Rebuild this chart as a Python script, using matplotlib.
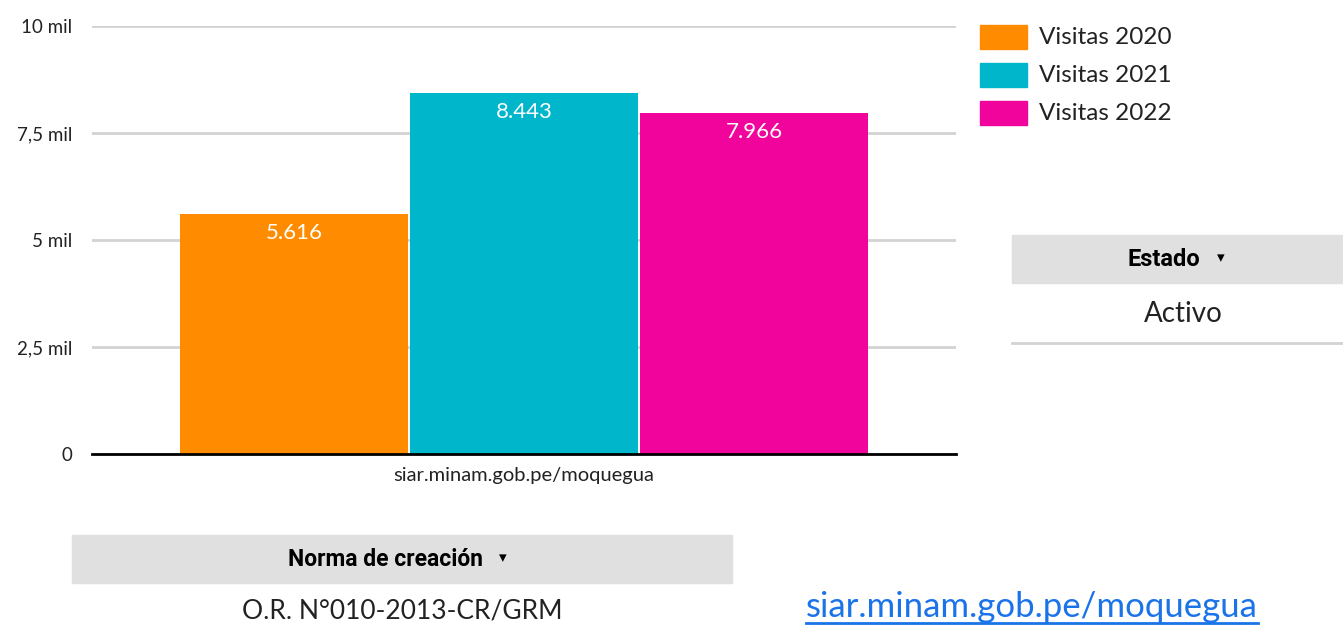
import matplotlib
matplotlib.use("Agg")
import matplotlib.pyplot as plt
from matplotlib.patches import Rectangle
from matplotlib.lines import Line2D

plt.rcParams['font.family'] = ['Lato', 'DejaVu Sans']

series = ["Visitas 2020", "Visitas 2021", "Visitas 2022"]
values = [5616, 8443, 7966]
labels = ["5.616", "8.443", "7.966"]
colors = ["#ff8c00", "#00b6cb", "#f0049b"]
category = "siar.minam.gob.pe/moquegua"
yticks = [0, 2500, 5000, 7500, 10000]
ytick_labels = ["0", "2,5 mil", "5 mil", "7,5 mil", "10 mil"]

W, H = 1343, 631
fig = plt.figure(figsize=(W / 100, H / 100), dpi=100)

ax = fig.add_axes([92 / W, 1 - 454 / H, 864 / W, 428 / H])
pos = [-1, 0, 1]
bars = ax.bar(pos, values, width=228 / 230, color=colors, zorder=3)
for b, lab in zip(bars, labels):
    ax.annotate(lab, (b.get_x() + b.get_width() / 2, b.get_height()),
                xytext=(0, -19), textcoords="offset pixels",
                ha="center", va="center", color="white", fontsize=16, zorder=4)

ax.set_xlim(-864 / 460, 864 / 460)
ax.set_ylim(0, 10000)
ax.set_yticks(yticks)
ax.set_yticklabels(ytick_labels, fontsize=13.5, color="#222222")
ax.set_xticks([0])
ax.set_xticklabels([category], fontsize=14.5, color="#222222")
ax.tick_params(axis="y", length=0, pad=14)
ax.tick_params(axis="x", length=0, pad=9)
ax.grid(axis="y", color="#d3d3d3", linewidth=2, zorder=0)
for s in ["top", "right", "left"]:
    ax.spines[s].set_visible(False)
ax.spines["bottom"].set_linewidth(2)
ax.spines["bottom"].set_color("black")
ax.spines["bottom"].set_zorder(5)

# legend
for i, (name, c) in enumerate(zip(series, colors)):
    yc = 37 + 38 * i
    fig.patches.append(Rectangle((980 / W, 1 - (yc + 12) / H), 47 / W, 24 / H,
                                 transform=fig.transFigure, color=c))
    fig.text(1039 / W, 1 - (yc + 1) / H, name, ha="left", va="center",
             fontsize=17.5, color="#222222")

# Estado panel
fig.patches.append(Rectangle((1012 / W, 1 - 283 / H), 331 / W, 48 / H,
                             transform=fig.transFigure, color="#e0e0e0"))
fig.text(1164 / W, 1 - 259 / H, "Estado", ha="center", va="center",
         fontsize=17, fontweight="bold", family=["Roboto", "DejaVu Sans"])
fig.text(1221 / W, 1 - 258 / H, "▾", ha="center", va="center",
         fontsize=11, family=["DejaVu Sans"])
fig.text(1183 / W, 1 - 314 / H, "Activo", ha="center", va="center",
         fontsize=20, color="#222222")
fig.lines.append(Line2D([1012 / W, 1], [1 - 343 / H, 1 - 343 / H],
                        transform=fig.transFigure, color="#d3d3d3", linewidth=2))

# Norma panel
fig.patches.append(Rectangle((72 / W, 1 - 583 / H), 660 / W, 48 / H,
                             transform=fig.transFigure, color="#e0e0e0"))
fig.text(385 / W, 1 - 559 / H, "Norma de creación", ha="center", va="center",
         fontsize=16.5, fontweight="bold", family=["Roboto", "DejaVu Sans"])
fig.text(503 / W, 1 - 558 / H, "▾", ha="center", va="center",
         fontsize=11, family=["DejaVu Sans"])
fig.text(402 / W, 1 - 611 / H, "O.R. N°010-2013-CR/GRM", ha="center", va="center",
         fontsize=19, color="#222222")

# link
link = fig.text(1032 / W, 1 - 607 / H, "siar.minam.gob.pe/moquegua", ha="center",
                va="center", fontsize=25, color="#1a73e8")
fig.canvas.draw()
bb = link.get_window_extent().transformed(fig.transFigure.inverted())
fig.lines.append(Line2D([bb.x0, bb.x1], [1 - 623 / H, 1 - 623 / H],
                        transform=fig.transFigure, color="#1a73e8", linewidth=2))

fig.savefig("out.png", dpi=100)
